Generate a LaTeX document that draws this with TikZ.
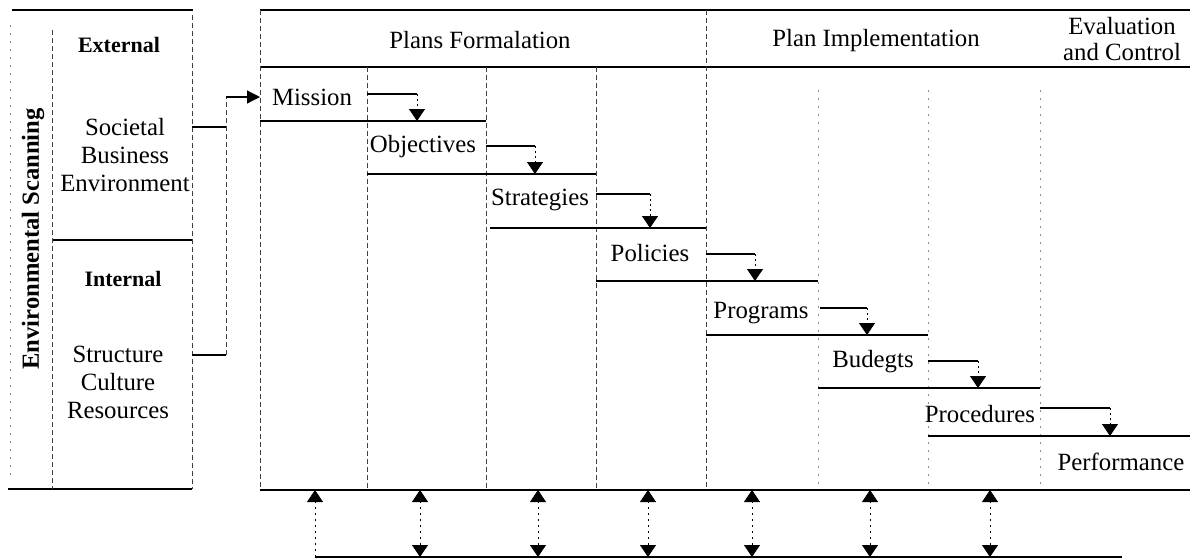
\documentclass[tikz,border=0pt]{standalone}
\usepackage{fontspec}
\setmainfont{Liberation Serif}
\usetikzlibrary{arrows.meta}
\begin{document}
\begin{tikzpicture}[x=0.5pt,y=-0.5pt,
  txt/.style={font=\fontsize{12.4}{14}\selectfont, inner sep=0pt, align=center},
  hdr/.style={font=\fontsize{12.4}{13}\selectfont, inner sep=0pt, align=center},
  bold/.style={font=\fontsize{11}{14}\selectfont\bfseries, inner sep=0pt},
  sidebold/.style={font=\fontsize{12.3}{14}\selectfont\bfseries, inner sep=0pt, rotate=90},
  rule/.style={line width=0.85pt},
  colline/.style={line width=0.4pt, black!75, dash pattern=on 2.5pt off 1.5pt},
  faint/.style={line width=0.4pt, black!45, dash pattern=on 1pt off 3pt},
  conn/.style={line width=0.55pt},
  tip/.style={Triangle[width=8pt,length=6pt]},
  drop/.style={line width=0.4pt, dash pattern=on 1pt off 1.5pt, -{Triangle[width=8pt,length=6pt]}},
  feed/.style={line width=0.4pt, dash pattern=on 1pt off 2pt, -{Triangle[width=8pt,length=6pt]}},
  feedboth/.style={line width=0.4pt, dash pattern=on 1pt off 2pt, {Triangle[width=8pt,length=6pt]}-{Triangle[width=8pt,length=6pt]}},
  entry/.style={line width=0.6pt, -{Triangle[width=6.5pt,length=6.5pt]}}
]
\useasboundingbox (0,0) rectangle (1190,559);

% ---------- environmental scanning box ----------
\draw[rule] (12,10) -- (193,10);
\draw[rule] (8,489) -- (192,489);
\draw[rule] (52,240) -- (192,240);
\draw[faint] (10,25) -- (10,480);
\draw[colline] (52,30) -- (52,489);
\draw[colline] (192,15) -- (192,489);

\node[sidebold] (env) at (33,239) {Environmental Scanning};
\node[bold] (ext) at (119,45) {External};
\node[txt] (soc) at (125,155) {Societal\\Business\\Environment};
\node[bold] (int) at (123,279) {Internal};
\node[txt] (str) at (118,382) {Structure\\Culture\\Resources};

% bracket feeding the mission
\coordinate (socout) at (192,127);
\coordinate (strout) at (192,355);
\coordinate (joint) at (226,97);
\draw[conn] (socout) -- (socout -| joint);
\draw[conn] (strout) -- (strout -| joint);
\draw[colline] (strout -| joint) -- (joint);

% ---------- planning table frame ----------
\draw[rule] (260,10) -- (1190,10);
\draw[rule] (260,67) -- (1190,67);
\draw[rule] (260,490) -- (1190,490);
\draw[colline] (260,10) -- (260,490);
\draw[colline] (706,10) -- (706,490);
\draw[colline] (367,67) -- (367,490);
\draw[colline] (486,67) -- (486,490);
\draw[colline] (596,67) -- (596,490);
\draw[faint] (818,90) -- (818,490);
\draw[faint] (928,90) -- (928,490);
\draw[faint] (1040,90) -- (1040,490);

\node[hdr] (hplan) at (480,40) {Plans Formalation};
\node[hdr] (himpl) at (876,41) {Plan Implementation};
\node[hdr] (heval) at (1122,39) {Evaluation\\and Control};

% ---------- cascade of steps ----------
\node[txt] (mission)    at (312,97)  {Mission};
\node[txt] (objectives) at (423,147) {Objectives};
\node[txt] (strategies) at (540,200) {Strategies};
\node[txt] (policies)   at (650,253) {Policies};
\node[txt] (programs)   at (761,313) {Programs};
\node[txt] (budegts)    at (873,362) {Budegts};
\node[txt] (procedures) at (980,414) {Procedures};
\node[txt] (performance) at (1121,462) {Performance};

\draw[entry] (joint) -- (joint -| 260,0);

\draw[rule] (260,121) -- (486,121);
\draw[rule] (367,174) -- (596,174);
\draw[rule] (490,228) -- (706,228);
\draw[rule] (596,281) -- (818,281);
\draw[rule] (706,335) -- (928,335);
\draw[rule] (818,388) -- (1040,388);
\draw[rule] (928,436) -- (1190,436);

% step-to-step links: out of a step, down onto the next step's rule
\coordinate (o1) at (367,94);   \coordinate (i1) at (417,121);
\coordinate (o2) at (486,146);  \coordinate (i2) at (535,174);
\coordinate (o3) at (596,194);  \coordinate (i3) at (650,228);
\coordinate (o4) at (706,254);  \coordinate (i4) at (755,281);
\coordinate (o5) at (820,308);  \coordinate (i5) at (867,335);
\coordinate (o6) at (928,361);  \coordinate (i6) at (978,388);
\coordinate (o7) at (1040,408); \coordinate (i7) at (1110,436);
\foreach \k in {1,...,7}{
  \draw[conn] (o\k) -- (o\k -| i\k);
  \draw[drop] (o\k -| i\k) -- (i\k);
}

% ---------- feedback rail ----------
\coordinate (railstart) at (315,557);
\coordinate (railend) at (1122,557);
\draw[rule] (railstart) -- (railend);
\draw[feed] (railstart) -- (315,490);
\foreach \fx in {420,538,648,752,870,990}{
  \draw[feedboth] (\fx,557) -- (\fx,490);
}
\end{tikzpicture}
\end{document}
